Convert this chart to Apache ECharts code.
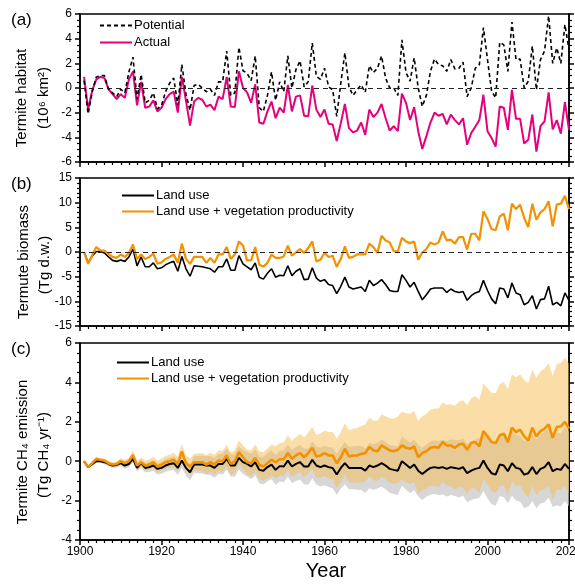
<!DOCTYPE html>
<html><head><meta charset="utf-8">
<script src="https://cdn.jsdelivr.net/npm/echarts@6/dist/echarts.min.js"></script>
<style>html,body{margin:0;padding:0;background:#fff}#c{width:575px;height:585px}</style>
</head><body><div id="c"></div>
<script>
const startYear = 1901;
const nYears = 120;
const years = Array.from({length: nYears}, (_, i) => startYear + i);
const xTicks = [1900, 1920, 1940, 1960, 1980, 2000, 2020];

// (a) Termite habitat (10^6 km2)
const potential = [0.6,-2.1,-0.3,0.9,1.0,1.0,-0.1,-0.4,-0.7,-0.1, -0.4,1.3,2.5,-0.9,1.1,-1.2,-1.0,-0.4,-1.7,-1.4, -0.3,0.4,0.8,-1.4,1.9,-0.5,-1.8,0.2,0.3,0.0, -0.3,-0.1,-0.6,0.5,0.5,3.0,-0.6,-0.4,3.3,1.4, 1.2,0.6,2.6,-1.6,-1.9,-0.6,1.3,-1.0,0.5,-0.3, 2.6,0.0,1.5,2.2,0.1,0.5,3.65,0.95,0.7,1.6, 0.1,-0.15,-2.3,0.4,2.85,0.1,-0.6,-0.15,0.25,-0.35, 1.8,1.25,1.6,2.6,0.8,0,0,-0.6,3.9,1.25, 0.55,2.45,0,-1.5,-0.6,1.35,2.35,1.9,1.8,1.35, 2.3,1.55,1.6,2.1,-0.7,0,1.6,1.9,4.9,2.3, -0.25,-0.8,3.7,3.5,1.35,5.35,2.3,2.35,0,0.55, 3.4,-0.15,2.3,3.0,5.85,2.0,3.25,2.0,5.15,3.1];
const actual = [0.9,-1.75,-0.2,0.7,0.9,0.8,-0.1,-0.5,-0.9,-0.5, -0.8,0.7,1.35,-1.4,0.5,-1.6,-1.5,-1.0,-1.9,-1.6, -0.9,-0.5,-0.3,-2.0,0.9,-1.0,-3.05,-1.1,-0.8,-0.95, -1.5,-1.35,-1.8,-0.7,-0.9,0.9,-1.5,-1.55,1.35,0, -0.35,-1.2,0.3,-2.8,-2.9,-1.9,-1.1,-2.45,-1.6,-2.0, 0.25,-1.9,-0.7,-0.6,-2.25,-2.3,0.2,-1.75,-2.35,-1.75, -2.9,-2.95,-4.3,-2.85,-1.3,-3.25,-3.6,-3.45,-2.8,-3.8, -1.75,-2.35,-2.0,-1.3,-2.45,-3.45,-3.1,-3.5,-0.45,-1.2, -2.6,-1.55,-3.5,-4.95,-3.9,-2.8,-2.0,-2.25,-2.1,-2.95, -2.15,-2.6,-2.95,-2.45,-4.6,-3.65,-3.15,-2.6,-0.55,-3.5, -4.05,-4.75,-1.5,-1.6,-3.4,-0.15,-2.5,-2.5,-4.5,-4.2, -2.15,-5.15,-3.1,-2.7,-0.35,-3.35,-2.6,-3.7,-1.15,-3.4];

// (b) Termite biomass (Tg d.w.)
const biomassLand = [0,-2.2,-0.8,0.1,0.1,-0.2,-1.0,-1.7,-1.9,-1.6, -1.9,-1.0,0.6,-2.8,-1.0,-3.0,-3.0,-2.2,-3.4,-3.2, -2.6,-2.2,-1.9,-3.9,-0.9,-3.4,-4.9,-2.8,-2.9,-3.0, -3.2,-3.4,-4.1,-3.0,-3.0,-1.4,-3.7,-3.7,-0.75,-2.4, -3.0,-3.6,-2.2,-5.1,-5.5,-4.3,-3.4,-5.1,-4.7,-4.8, -2.8,-4.8,-3.9,-3.4,-5.6,-5.5,-3.2,-5.3,-5.95,-5.6, -6.6,-6.8,-8.45,-6.95,-5.1,-7.1,-7.5,-7.3,-7.1,-8.0, -5.75,-6.8,-6.3,-5.6,-6.6,-7.8,-8.0,-8.0,-4.6,-5.75, -7.1,-6.15,-8.0,-9.7,-8.65,-7.5,-7.3,-7.3,-7.3,-8.2, -7.5,-8.0,-8.2,-8.0,-9.8,-8.85,-8.3,-8.0,-5.75,-7.8, -9.5,-10.5,-7.3,-7.5,-9.3,-6.3,-8.3,-8.65,-10.7,-10.2, -8.85,-11.55,-9.65,-9.5,-6.95,-10.7,-10.2,-10.9,-8.3,-9.8];
const biomassVeg = [0,-2.4,-0.6,1.0,0.3,0.3,-0.4,-1.0,-1.2,-0.5, -1.0,-0.2,1.5,-1.4,-0.5,-1.4,-1.0,-0.35,-2.4,-2.1, -1.4,-1.0,-0.5,-2.2,1.7,-1.4,-2.4,-1.0,-1.0,-1.0, -2.2,-1.2,-2.2,-0.5,-0.5,1.0,-1.4,-0.5,2.15,1.3, -1.7,-1.7,1.0,-2.6,-3.0,-2.2,-0.5,-1.2,-1.2,-0.9, 1.3,-0.75,-0.05,0.6,-0.2,0.8,2.15,-1.9,-1.55,-0.2, -1.0,-0.75,-3.0,-1.4,1.15,-1.2,-1.0,-0.5,-0.5,-0.5, 1.7,1.0,-0.2,3.3,2.35,1.95,0.15,0.15,2.85,2.15, 1.8,2.15,-1.55,-0.05,0.6,1.95,1.5,1.95,4.2,2.35, 2.5,1.7,3.0,3.0,0.5,3.7,3.7,2.35,8.25,6.7, 4.65,4.4,7.2,7.8,4.4,9.8,8.7,9.6,6.9,5.05, 9.8,6.55,8.05,8.7,10.3,5.2,9.6,9.8,11.4,8.7];

// (c) Termite CH4 emission (Tg CH4 yr-1)
const ch4Land = [0,-0.3,-0.15,0,0,-0.05,-0.14,-0.22,-0.19,-0.1, -0.22,-0.14,0.12,-0.34,-0.1,-0.34,-0.3,-0.22,-0.39,-0.34, -0.22,-0.14,-0.1,-0.34,0.03,-0.34,-0.56,-0.17,-0.17,-0.17, -0.22,-0.22,-0.34,-0.14,-0.14,0.12,-0.22,-0.22,0.17,-0.05, -0.14,-0.27,-0.05,-0.44,-0.48,-0.3,-0.17,-0.44,-0.25,-0.27, 0.03,-0.27,-0.14,-0.05,-0.27,-0.27,0.07,-0.22,-0.3,-0.22, -0.3,-0.34,-0.68,-0.34,-0.1,-0.34,-0.34,-0.34,-0.34,-0.48, -0.22,-0.3,-0.22,-0.1,-0.22,-0.39,-0.44,-0.48,0,-0.17, -0.34,-0.17,-0.48,-0.65,-0.48,-0.34,-0.3,-0.34,-0.3,-0.39, -0.3,-0.34,-0.39,-0.3,-0.61,-0.48,-0.39,-0.34,0.03,-0.34, -0.61,-0.68,-0.17,-0.22,-0.51,-0.1,-0.34,-0.39,-0.68,-0.61, -0.3,-0.65,-0.39,-0.3,-0.05,-0.51,-0.39,-0.44,-0.14,-0.39];
const ch4Veg = [0,-0.3,-0.1,0.12,0.07,0.03,-0.1,-0.17,-0.14,0, -0.1,0,0.32,-0.22,-0.05,-0.22,-0.17,-0.05,-0.27,-0.17, -0.05,0,0.07,-0.14,0.5,-0.1,-0.27,-0.05,-0.05,-0.05, -0.17,-0.05,-0.17,0.03,0,0.29,-0.14,0,0.46,0.2, -0.05,-0.1,0.17,-0.19,-0.27,-0.1,0.07,-0.05,0.1,0.1, 0.42,0.12,0.29,0.41,0.2,0.41,0.68,0.24,0.29,0.41, 0.29,0.29,-0.1,0.2,0.63,0.24,0.29,0.29,0.37,0.41, 0.72,0.55,0.51,0.8,0.68,0.55,0.51,0.58,0.8,0.68, 0.63,0.75,0.2,0.41,0.51,0.68,0.72,0.68,0.97,0.8, 0.8,0.68,0.85,0.89,0.58,0.92,0.97,0.75,1.53,1.26, 0.97,0.92,1.31,1.4,0.97,1.7,1.48,1.6,1.26,1.06, 1.7,1.26,1.53,1.65,1.87,1.19,1.74,1.77,2.0,1.65];
const ch4VegHi = [0.05,-0.24,-0.03,0.20,0.16,0.13,0.01,-0.05,-0.01,0.15, 0.07,0.18,0.52,-0.01,0.18,0.02,0.09,0.22,0.02,0.13, 0.27,0.33,0.42,0.22,0.88,0.29,0.14,0.37,0.39,0.40, 0.30,0.43,0.33,0.54,0.53,0.83,0.42,0.57,1.05,0.80, 0.58,0.55,0.85,0.51,0.46,0.65,0.85,0.75,0.93,0.95, 1.30,1.03,1.23,1.38,1.20,1.44,1.74,1.33,1.41,1.56, 1.47,1.50,1.14,1.47,1.93,1.57,1.65,1.68,1.79,1.86, 2.20,2.06,2.05,2.37,2.28,2.18,2.17,2.27,2.52,2.43, 2.41,2.56,2.04,2.28,2.41,2.61,2.68,2.67,2.99,2.85, 2.89,2.81,3.02,3.10,2.83,3.21,3.30,3.12,3.94,3.71, 3.47,3.46,3.90,4.03,3.65,4.42,4.25,4.41,4.12,3.96, 4.64,4.24,4.55,4.71,4.97,4.33,4.92,4.99,5.26,4.95];
const ch4VegLo = [-0.05,-0.36,-0.17,0.04,-0.02,-0.07,-0.21,-0.29,-0.27,-0.15, -0.27,-0.18,0.12,-0.43,-0.28,-0.46,-0.43,-0.32,-0.56,-0.47, -0.37,-0.33,-0.28,-0.50,0.12,-0.49,-0.68,-0.47,-0.49,-0.50, -0.64,-0.53,-0.67,-0.48,-0.53,-0.25,-0.70,-0.57,-0.13,-0.40, -0.68,-0.75,-0.51,-0.89,-1.00,-0.85,-0.71,-0.85,-0.73,-0.75, -0.46,-0.79,-0.65,-0.56,-0.80,-0.62,-0.38,-0.85,-0.83,-0.74, -0.89,-0.92,-1.34,-1.07,-0.67,-1.09,-1.07,-1.10,-1.05,-1.04, -0.76,-0.96,-1.03,-0.77,-0.92,-1.08,-1.15,-1.11,-0.92,-1.07, -1.15,-1.06,-1.64,-1.46,-1.39,-1.25,-1.24,-1.31,-1.05,-1.25, -1.29,-1.45,-1.32,-1.32,-1.67,-1.37,-1.36,-1.62,-0.88,-1.19, -1.53,-1.62,-1.28,-1.23,-1.71,-1.02,-1.29,-1.21,-1.60,-1.84, -1.24,-1.72,-1.49,-1.41,-1.23,-1.95,-1.44,-1.45,-1.26,-1.65];
const ch4LandHi = [0.05,-0.24,-0.08,0.08,0.09,0.05,-0.03,-0.10,-0.06,0.04, -0.06,0.03,0.31,-0.14,0.12,-0.11,-0.05,0.04,-0.11,-0.04, 0.10,0.19,0.25,0.02,0.41,0.05,-0.15,0.25,0.27,0.28, 0.25,0.26,0.16,0.37,0.39,0.66,0.34,0.35,0.76,0.55, 0.48,0.37,0.61,0.24,0.22,0.42,0.57,0.32,0.53,0.53, 0.85,0.57,0.72,0.83,0.63,0.65,1.01,0.74,0.68,0.78, 0.71,0.69,0.36,0.71,0.97,0.74,0.75,0.77,0.78,0.65, 0.93,0.86,0.95,1.09,0.98,0.82,0.79,0.76,1.25,1.10, 0.94,1.12,0.83,0.67,0.85,1.01,1.06,1.03,1.09,1.01, 1.12,1.09,1.06,1.16,0.87,1.01,1.12,1.18,1.57,1.21, 0.96,0.90,1.43,1.39,1.12,1.54,1.32,1.28,1.01,1.09, 1.42,1.09,1.37,1.48,1.75,1.31,1.45,1.42,1.74,1.51];
const ch4LandLo = [-0.05,-0.36,-0.22,-0.08,-0.09,-0.15,-0.25,-0.34,-0.32,-0.24, -0.38,-0.31,-0.07,-0.54,-0.32,-0.57,-0.55,-0.48,-0.67,-0.64, -0.54,-0.47,-0.45,-0.70,-0.35,-0.73,-0.97,-0.59,-0.61,-0.62, -0.69,-0.70,-0.84,-0.65,-0.67,-0.42,-0.78,-0.79,-0.42,-0.65, -0.76,-0.91,-0.71,-1.12,-1.18,-1.02,-0.91,-1.20,-1.03,-1.07, -0.79,-1.11,-1.00,-0.93,-1.17,-1.19,-0.87,-1.18,-1.28,-1.22, -1.31,-1.37,-1.72,-1.39,-1.17,-1.42,-1.43,-1.45,-1.46,-1.61, -1.37,-1.46,-1.39,-1.29,-1.42,-1.60,-1.67,-1.72,-1.25,-1.44, -1.62,-1.46,-1.79,-1.97,-1.81,-1.69,-1.66,-1.71,-1.69,-1.79, -1.72,-1.77,-1.84,-1.76,-2.09,-1.97,-1.90,-1.86,-1.51,-1.89, -2.18,-2.26,-1.77,-1.83,-2.14,-1.74,-2.00,-2.06,-2.37,-2.31, -2.02,-2.39,-2.15,-2.08,-1.85,-2.33,-2.23,-2.30,-2.02,-2.29];

const FONT = '"Liberation Sans", Arial, Helvetica, sans-serif';
const pairs = arr => arr.map((v, i) => [years[i], v]);

const grids = [
  {left: 80, top: 14, width: 489, height: 148},
  {left: 80, top: 178, width: 489, height: 148},
  {left: 80, top: 343, width: 489, height: 197}
].map(g => Object.assign(g, {show: true, borderColor: '#000', borderWidth: 1.5,
  backgroundColor: 'transparent', containLabel: false, outerBoundsMode: 'none'}));

const yRanges = [
  {min: -6, max: 6, interval: 2, minor: 4},
  {min: -15, max: 15, interval: 5, minor: 5},
  {min: -4, max: 6, interval: 2, minor: 4}
];

const xAxes = [0, 1, 2].map(i => ({
  gridIndex: i, type: 'value', position: 'bottom', min: 1900, max: 2020, interval: 20,
  axisLine: {show: true, onZero: false, lineStyle: {color: '#000', width: 1.5}},
  axisTick: {show: true, length: 5, lineStyle: {color: '#000', width: 1.5}},
  minorTick: {show: true, splitNumber: 10, length: 3, lineStyle: {color: '#000', width: 1.2}},
  splitLine: {show: false},
  axisLabel: {show: i === 2, fontSize: 12, fontFamily: FONT, color: '#000', margin: 6,
    hideOverlap: false, showMaxLabel: true, showMinLabel: true,
    formatter: v => xTicks.includes(v) ? String(v) : ''}
}));

const yAxes = [];
yRanges.forEach((r, i) => {
  ['left', 'right'].forEach(pos => {
    yAxes.push({
      gridIndex: i, type: 'value', position: pos, min: r.min, max: r.max, interval: r.interval,
      axisLine: {show: true, onZero: false, lineStyle: {color: '#000', width: 1.5}},
      axisTick: {show: true, length: 5, lineStyle: {color: '#000', width: 1.5}},
      minorTick: {show: true, splitNumber: r.minor, length: 3, lineStyle: {color: '#000', width: 1.2}},
      splitLine: {show: false},
      axisLabel: {show: pos === 'left', fontSize: 12, fontFamily: FONT, color: '#000', margin: 8}
    });
  });
});

const zeroLine = {silent: true, symbol: 'none', label: {show: false},
  lineStyle: {type: [5, 4], color: '#222', width: 1}, data: [{yAxis: 0}]};

const line = (name, xi, yi, data, color, width, extra) => Object.assign({
  name, type: 'line', xAxisIndex: xi, yAxisIndex: yi, data, symbol: 'none', showSymbol: false,
  lineStyle: {color, width}, itemStyle: {color}, animation: false
}, extra || {});

// uncertainty band drawn as polygon through the axis scales
const band = (name, lo, hi, color, opacity) => ({
  name, type: 'custom', xAxisIndex: 2, yAxisIndex: 4, silent: true, z: 1, animation: false,
  data: years.map((y, i) => [y, lo[i], hi[i]]),
  encode: {x: 0, y: [1, 2]},
  renderItem: (params, api) => {
    if (params.dataIndex !== 0) return null;
    const pts = [];
    for (let i = 0; i < years.length; i++) pts.push(api.coord([years[i], hi[i]]));
    for (let i = years.length - 1; i >= 0; i--) pts.push(api.coord([years[i], lo[i]]));
    return {type: 'polygon', shape: {points: pts}, style: {fill: color, opacity}};
  }
});

const series = [
  line('Actual', 0, 0, pairs(actual), '#e5007d', 2, {markLine: zeroLine, z: 2}),
  line('Potential', 0, 0, pairs(potential), '#000', 1.6, {lineStyle: {color: '#000', width: 1.6, type: [4, 3]}, z: 3}),
  line('Land use', 1, 2, pairs(biomassLand), '#000', 1.6, {markLine: zeroLine}),
  line('Land use + vegetation productivity', 1, 2, pairs(biomassVeg), '#f39200', 2.2),
  band('bandLand', ch4LandLo, ch4LandHi, '#c6c6c6', 0.7),
  band('bandVeg', ch4VegLo, ch4VegHi, '#f8bb50', 0.5),
  line('Land use', 2, 4, pairs(ch4Land), '#000', 2, {z: 4}),
  line('Land use + vegetation productivity', 2, 4, pairs(ch4Veg), '#f39200', 2.6, {z: 5})
];

const legendBase = {orient: 'vertical', padding: 0, itemWidth: 32, itemHeight: 12, itemGap: 4,
  itemStyle: {opacity: 0, borderWidth: 0},
  textStyle: {fontSize: 13, fontFamily: FONT, color: '#000', padding: [0, 0, 0, -3]}, selectedMode: false};
const legends = [
  Object.assign({}, legendBase, {left: 99, top: 19, data: ['Potential', 'Actual']}),
  Object.assign({}, legendBase, {left: 121, top: 189, itemGap: 3, data: ['Land use', 'Land use + vegetation productivity']}),
  Object.assign({}, legendBase, {left: 116, top: 356, itemGap: 3, data: ['Land use', 'Land use + vegetation productivity']})
];

const txt = (text, x, y, size, rot, align) => ({
  type: 'text', x, y, rotation: rot ? Math.PI / 2 : 0, silent: true,
  style: {text, fontSize: size, fontFamily: FONT, fill: '#000', align: align || 'center', verticalAlign: 'middle'}
});

const graphic = [
  txt('(a)', 11, 20, 17, false, 'left'),
  txt('(b)', 11, 184, 17, false, 'left'),
  txt('(c)', 11, 349, 17, false, 'left'),
  txt('Termite habitat', 22, 98, 15, true),
  txt('(10\u2076 km\u00B2)', 44, 98, 15, true),
  txt('Termute biomass', 24, 262, 15, true),
  txt('(Tg d.w.)', 45, 265, 15, true),
  txt('Termite CH\u2084 emission', 23, 452, 15, true),
  txt('(Tg CH\u2084 yr\u207B\u00B9)', 44, 455, 15, true),
  txt('Year', 326, 571, 20, false)
];

const chart = echarts.init(document.getElementById('c'), null, {renderer: 'canvas'});
chart.setOption({
  animation: false,
  backgroundColor: '#fff',
  grid: grids,
  xAxis: xAxes,
  yAxis: yAxes,
  legend: legends,
  series,
  graphic
});
</script></body></html>
